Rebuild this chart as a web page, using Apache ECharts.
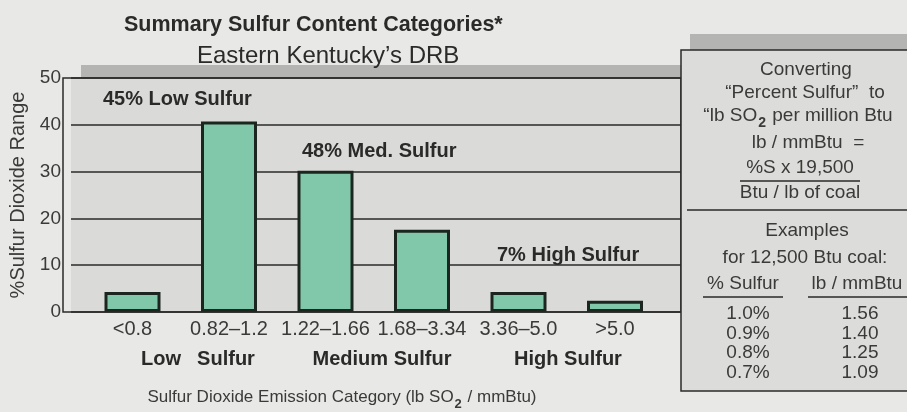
<!DOCTYPE html>
<html>
<head>
<meta charset="utf-8">
<script src="https://cdn.jsdelivr.net/npm/echarts@6/dist/echarts.min.js"></script>
<style>
  html, body { margin: 0; padding: 0; background: #e8e8e6; }
  #chart { width: 907px; height: 412px; }
</style>
</head>
<body>
<div id="chart"></div>
<script>
// SO2 emission categories (lb SO2 / mmBtu) and share of resource in each
const categories = ['<0.8', '0.82\u20131.2', '1.22\u20131.66', '1.68\u20133.34', '3.36\u20135.0', '>5.0'];
const percentSO2 = [4.3, 40.7, 30.2, 17.6, 4.3, 2.4];

// Sulfur classes: which categories fall in each
const classNames = ['Low Sulfur', 'Med. Sulfur', 'High Sulfur'];
const classMembers = [[0, 1], [2, 3], [4, 5]];

// Value axis ticks
const yMin = 0, yMax = 50, yStep = 10;

// Conversion examples for 12,500 Btu coal
const examplePercentS = ['1.0%', '0.9%', '0.8%', '0.7%'];
const exampleLbPerMmBtu = ['1.56', '1.40', '1.25', '1.09'];

const FONT = '"Liberation Sans", Arial, Helvetica, sans-serif';
const INK = '#2a2a28';
const TEXT = '#3a3a38';
const SHADOW = '#b4b4b2';

const classTotals = classMembers.map(m => Math.round(m.reduce((s, i) => s + percentSO2[i], 0)));

const chart = echarts.init(document.getElementById('chart'), null, { renderer: 'canvas' });

// Rich styles: normal run lifted by a bottom padding, subscript sits on the line bottom
function subRich(size, subSize) {
  return {
    n: { fontSize: size, fontFamily: FONT, fill: TEXT, verticalAlign: 'bottom',
         textVerticalAlign: 'bottom', padding: [0, 0, 5, 0] },
    s: { fontSize: subSize, fontWeight: 'bold', fontFamily: FONT, fill: TEXT,
         verticalAlign: 'bottom', textVerticalAlign: 'bottom', padding: [0, 1, 0, 1] }
  };
}

function txt(text, x, y, size, opts) {
  opts = opts || {};
  const st = {
    text: text, x: x, y: y,
    fill: opts.fill || TEXT,
    fontSize: size,
    fontFamily: FONT,
    fontWeight: opts.bold ? 'bold' : 'normal',
    align: opts.align || 'center',
    verticalAlign: 'middle',
    textAlign: opts.align || 'center',
    textVerticalAlign: 'middle'
  };
  if (opts.rich) st.rich = opts.rich;
  return { type: 'text', z: opts.z || 120, style: st };
}
function hline(x1, x2, y, w) {
  return { type: 'line', z: 120, shape: { x1: x1, y1: y, x2: x2, y2: y },
           style: { stroke: INK, lineWidth: w || 1.5 } };
}

// Plot frame drawn over the grid fill (the fill carries the offset shadow)
const frame = [
  { type: 'rect', z: 50, shape: { x: 63, y: 78, width: 618, height: 234 },
    style: { fill: null, stroke: INK, lineWidth: 1.5 } }
];

// Side panel: conversion from percent sulfur to lb SO2 per million Btu
const PS = 19;
const panel = [
  { type: 'rect', z: 100, shape: { x: 681, y: 50, width: 260, height: 341 },
    style: { fill: '#dcdcda', shadowColor: SHADOW, shadowOffsetX: 9, shadowOffsetY: -16, shadowBlur: 0 } },
  { type: 'rect', z: 101, shape: { x: 681, y: 50, width: 260, height: 341 },
    style: { fill: null, stroke: INK, lineWidth: 1.5 } },
  txt('Converting', 806, 70, PS),
  txt('\u201cPercent Sulfur\u201d  to', 805, 93, PS),
  txt('{n|\u201clb SO}{s|2}{n| per million Btu}', 798, 118, PS, { rich: subRich(PS, 14) }),
  txt('lb / mmBtu  =', 808, 143, PS),
  txt('%S x 19,500', 800, 168, PS),
  hline(740, 860, 181, 1.5),
  txt('Btu / lb of coal', 800, 193, PS),
  hline(687, 907, 210, 1.5),
  txt('Examples', 807, 231, PS),
  txt('for 12,500 Btu coal:', 805, 258, PS),
  txt('% Sulfur', 743, 284, PS),
  hline(703, 783, 297, 1.5),
  txt('lb / mmBtu', 857, 284, PS),
  hline(808, 907, 297, 1.5)
];
examplePercentS.forEach((v, i) => panel.push(txt(v, 748, 314 + i * 19.6, PS)));
exampleLbPerMmBtu.forEach((v, i) => panel.push(txt(v, 860, 314 + i * 19.6, PS)));

// Class labels inside the plot
const classLabelPos = [[103, 99], [302, 151], [497, 255]];
const inPlot = classNames.map((n, k) =>
  txt(classTotals[k] + '% ' + n, classLabelPos[k][0], classLabelPos[k][1], 20,
      { bold: true, align: 'left', fill: INK, z: 60 }));

// Class names under the category labels and the axis title
const below = [
  txt('Low', 161, 359, 20, { bold: true, fill: INK }),
  txt('Sulfur', 226, 359, 20, { bold: true, fill: INK }),
  txt('Medium Sulfur', 382, 359, 20, { bold: true, fill: INK }),
  txt('High Sulfur', 568, 359, 20, { bold: true, fill: INK }),
  txt('{n|Sulfur Dioxide Emission Category (lb SO}{s|2}{n| / mmBtu)}', 342, 400, 17,
      { rich: subRich(17, 13) })
];

const option = {
  backgroundColor: '#e8e8e6',
  animation: false,
  title: [
    { text: 'Summary Sulfur Content Categories*', left: 119, top: 9,
      textStyle: { fontFamily: FONT, fontSize: 21.5, fontWeight: 'bold', color: INK } },
    { text: 'Eastern Kentucky\u2019s DRB', left: 192, top: 39,
      textStyle: { fontFamily: FONT, fontSize: 24, fontWeight: 'normal', color: INK } }
  ],
  grid: [
    { left: 63, top: 78, width: 618, height: 234, show: true,
      backgroundColor: '#dadad8', borderWidth: 0,
      shadowColor: SHADOW, shadowOffsetX: 10, shadowOffsetY: -13, shadowBlur: 0 },
    { left: 84.25, top: 78, width: 579, height: 234 }
  ],
  xAxis: [
    { gridIndex: 0, type: 'value', show: false, min: 0, max: 1 },
    { gridIndex: 1, type: 'category', data: categories,
      axisLine: { show: false }, axisTick: { show: false },
      axisLabel: { fontFamily: FONT, fontSize: 20, color: TEXT, margin: 7, interval: 0 } }
  ],
  yAxis: [
    { gridIndex: 0, type: 'value', min: yMin, max: yMax, interval: yStep,
      name: '%Sulfur Dioxide Range', nameLocation: 'middle', nameGap: 43, nameRotate: 90,
      nameTextStyle: { fontFamily: FONT, fontSize: 20, color: TEXT },
      axisLine: { show: false }, axisTick: { show: false },
      axisLabel: { fontFamily: FONT, fontSize: 19, color: TEXT, margin: 10 },
      splitLine: { show: true, lineStyle: { color: INK, width: 1.5 } } },
    { gridIndex: 1, type: 'value', min: yMin, max: yMax, interval: yStep, show: false,
      splitLine: { show: false } }
  ],
  series: [
    { type: 'bar', xAxisIndex: 1, yAxisIndex: 1, data: percentSO2, barWidth: 56,
      itemStyle: { color: '#80c8a9', borderColor: '#1c2620', borderWidth: 3 } }
  ],
  graphic: [].concat(frame, inPlot, below, panel)
};

chart.setOption(option);
</script>
</body>
</html>
